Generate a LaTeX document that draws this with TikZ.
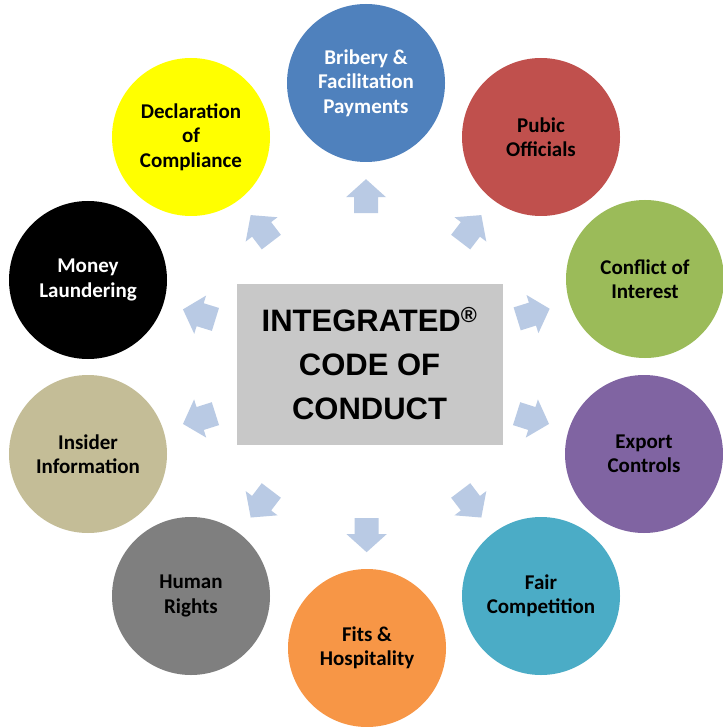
\documentclass[tikz,border=0pt]{standalone}
\usepackage{fontspec}
\setmainfont{Carlito}
\newfontfamily\centerfont{Liberation Sans}
\usetikzlibrary{calc}
\definecolor{cblue}{HTML}{4F81BD}
\definecolor{cred}{HTML}{C0504D}
\definecolor{cgreen}{HTML}{9BBB59}
\definecolor{cpurple}{HTML}{8064A2}
\definecolor{cteal}{HTML}{4BACC6}
\definecolor{corange}{HTML}{F79646}
\definecolor{cgray}{HTML}{7F7F7F}
\definecolor{ctan}{HTML}{C4BD97}
\definecolor{cyellow}{HTML}{FFFF00}
\definecolor{arrowblue}{RGB}{185,202,228}
\definecolor{boxgray}{RGB}{200,200,200}
\tikzset{
  circ/.style={circle, minimum size=158pt, inner sep=0pt, align=center,
    font=\bfseries\fontsize{21}{24.5}\selectfont},
  barrow/.pic={\fill[arrowblue] (-17,-12) -- (-1,-12) -- (-1,-20) -- (17,0)
      -- (-1,20) -- (-1,12) -- (-17,12) -- cycle;},
  centerbox/.style={fill=boxgray, draw=white, line width=1pt,
    minimum width=267pt, minimum height=162pt, inner sep=0pt, align=center,
    font=\centerfont\bfseries\fontsize{31}{44}\selectfont}
}
\begin{document}
\begin{tikzpicture}[x=1pt,y=-1pt]
\useasboundingbox[fill=white] (0,0) rectangle (722,727);
\coordinate (c) at (366,366);
\node[circ, fill=cblue, text=white] (b1) at (366,83) {Bribery \&\\Facilitation\\Payments};
\node[circ, fill=cred, text=black] (b2) at (541,137) {Pubic\\Officials};
\node[circ, fill=cgreen, text=black] (b3) at (645,279) {Conflict of\\Interest};
\node[circ, fill=cpurple, text=black] (b4) at (644,454) {Export\\Controls};
\node[circ, fill=cteal, text=black] (b5) at (541,596) {Fair\\Competition};
\node[circ, fill=corange, text=black] (b6) at (367,648) {Fits \&\\Hospitality};
\node[circ, fill=cgray, text=black] (b7) at (191,596) {Human\\Rights};
\node[circ, fill=ctan, text=black] (b8) at (88,454) {Insider\\Information};
\node[circ, fill=black, text=white] (b9) at (88,280) {Money\\Laundering};
\node[circ, fill=cyellow, text=black] (b10) at (191,137) {Declaration\\of\\Compliance};
\node[centerbox] (center) at (369.5,364) {INTEGRATED\textsuperscript{®}\\CODE OF\\CONDUCT};
\foreach \n/\a in {1/90, 2/52.6, 3/17.3, 4/-17.6, 5/-52.7, 6/-90, 7/-127.3, 8/197.6, 9/162.8, 10/127.4}
  \pic[rotate=\a] at ($(c)!0.6!(b\n.center)$) {barrow};
\end{tikzpicture}
\end{document}
